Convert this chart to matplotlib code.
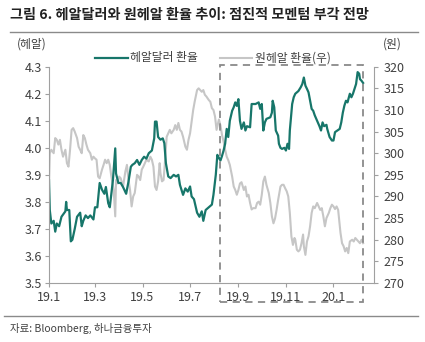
import numpy as np
import pandas as pd
import matplotlib
matplotlib.use('Agg')
import matplotlib.pyplot as plt
import matplotlib.dates as mdates
from matplotlib.patches import Rectangle
from matplotlib.lines import Line2D
from matplotlib.transforms import blended_transform_factory

plt.rcParams['font.family'] = ['Noto Sans CJK KR', 'DejaVu Sans']

start = pd.Timestamp('2019-01-01')

# 헤알달러 환율 (left axis), days since 2019-01-01
brl_days = [0, 1, 3, 6, 8, 10, 13, 16, 21, 22, 23, 26, 28, 30, 33, 36, 40, 42, 44, 47,
            50, 53, 57, 59, 62, 65, 68, 71, 73, 76, 78, 80, 82, 85, 86, 89, 92, 95, 99, 102,
            105, 107, 110, 113, 116, 119, 122, 125, 128, 132, 135, 136, 138, 140, 143, 146, 148, 150, 153, 156,
            160, 163, 166, 168, 172, 175, 178, 181, 183, 186, 190, 193, 196, 198, 201, 205, 209, 211, 214, 216,
            217, 220, 222, 224, 226, 228, 230, 232, 235, 237, 239, 241, 243, 245, 247, 250, 252, 254, 258, 260,
            265, 269, 271, 273, 275, 277, 279, 284, 286, 287, 289, 291, 294, 295, 297, 299, 302, 304, 306, 308,
            309, 312, 314, 316, 318, 320, 323, 325, 327, 329, 331, 333, 335, 337, 339, 341, 344, 347, 349, 351,
            353, 356, 357, 360, 363, 365, 367, 370, 373, 375, 377, 379, 381, 383, 386, 388, 390, 392, 394, 396,
            398, 399, 401, 403]
brl_usd = [3.88, 3.77, 3.72, 3.73, 3.69, 3.72, 3.71, 3.745, 3.765, 3.80, 3.77, 3.77, 3.654, 3.66, 3.70, 3.745, 3.76, 3.71, 3.73, 3.75,
           3.74, 3.75, 3.735, 3.78, 3.78, 3.87, 3.845, 3.83, 3.855, 3.795, 3.78, 3.83, 3.88, 3.998, 3.905, 3.87, 3.87, 3.855, 3.83, 3.875,
           3.93, 3.937, 3.943, 3.955, 3.937, 3.955, 3.967, 3.96, 3.98, 3.99, 4.035, 4.097, 4.097, 4.04, 4.03, 4.035, 4.017, 3.943, 3.894, 3.888,
           3.90, 3.894, 3.90, 3.863, 3.826, 3.85, 3.838, 3.857, 3.82, 3.81, 3.76, 3.745, 3.765, 3.73, 3.77, 3.78, 3.79, 3.826, 3.90, 3.974,
           3.968, 3.953, 3.97, 3.99, 4.015, 4.07, 4.04, 4.10, 4.137, 4.15, 4.168, 4.155, 4.18, 4.10, 4.07, 4.094, 4.064, 4.08, 4.076, 4.162,
           4.162, 4.168, 4.144, 4.162, 4.064, 4.094, 4.107, 4.113, 4.13, 4.174, 4.15, 4.064, 4.045, 4.015, 4.00, 3.996, 4.00, 3.99, 4.015, 3.996,
           4.064, 4.162, 4.187, 4.20, 4.205, 4.21, 4.224, 4.236, 4.26, 4.23, 4.218, 4.205, 4.175, 4.144, 4.137, 4.12, 4.10, 4.08, 4.064, 4.094,
           4.08, 4.085, 4.07, 4.04, 4.027, 4.027, 4.058, 4.064, 4.07, 4.094, 4.13, 4.156, 4.174, 4.168, 4.20, 4.187, 4.20, 4.218, 4.236, 4.28,
           4.274, 4.254, 4.248, 4.24]

# 원헤알 환율 (right axis)
krw_days = [0, 1, 3, 6, 8, 10, 12, 14, 16, 18, 21, 23, 25, 27, 29, 31, 33, 36, 38, 40,
            42, 44, 46, 48, 50, 53, 55, 57, 59, 61, 63, 65, 68, 70, 72, 74, 76, 78, 80, 83,
            85, 86, 88, 90, 92, 95, 98, 100, 102, 104, 106, 108, 110, 113, 115, 117, 119, 121, 123, 125,
            128, 130, 132, 134, 135, 136, 138, 140, 142, 143, 145, 147, 149, 151, 153, 155, 157, 160, 162, 164,
            166, 168, 170, 172, 175, 177, 179, 181, 183, 185, 187, 190, 192, 194, 196, 198, 200, 202, 205, 207,
            209, 211, 213, 215, 218, 220, 222, 224, 226, 228, 230, 232, 235, 237, 239, 241, 243, 245, 247, 250,
            252, 254, 256, 258, 260, 262, 265, 267, 269, 271, 273, 275, 277, 279, 282, 284, 286, 288, 290, 292,
            294, 297, 299, 301, 303, 305, 307, 309, 311, 313, 315, 316, 318, 320, 322, 324, 326, 327, 329, 331,
            333, 335, 337, 339, 341, 344, 346, 348, 350, 352, 354, 356, 359, 361, 363, 365, 367, 369, 371, 374,
            376, 378, 380, 382, 384, 386, 389, 391, 393, 395, 397, 399, 401, 403]
krw_brl = [293, 300, 300.8, 300, 303.5, 303.1, 302, 303.1, 300.8, 299.2, 300.8, 297.7, 296.9, 300.8, 305.4, 305.8, 305, 303.5, 301.5, 300.8,
           300, 304.2, 303.5, 302, 300.8, 300, 298.5, 299.2, 298.8, 298.5, 294.6, 294.2, 296.2, 297.3, 298.5, 297.7, 298.5, 297.3, 294.6, 291.5,
           285.4, 293.8, 293, 294.6, 294.2, 292.3, 295.8, 297.3, 293.8, 291.5, 287.7, 290, 290.8, 295, 294.6, 293.8, 296.2, 296.9, 297.7, 298.5,
           298.1, 299.2, 298.5, 296.9, 294.6, 292.3, 291.5, 293.5, 297.7, 295.4, 293.5, 293.8, 298.5, 303.8, 304.6, 305.4, 304.6, 305.4, 306.5, 305.4,
           307, 305.4, 305, 303.8, 301.5, 300.8, 303.1, 304.6, 307.3, 310, 312, 314.6, 315, 314.6, 314.2, 314.6, 313.5, 313.1, 312.3, 311.9,
           310.4, 310, 308.5, 305.4, 307.8, 306.4, 304.2, 302.7, 300.8, 299.2, 298.4, 297.3, 294.6, 292.3, 291.5, 290.4, 291.5, 293, 293.3, 291.5,
           292.3, 290, 290.4, 288.5, 287, 287.3, 287.3, 288.5, 288.8, 288.1, 290.4, 293.5, 294.6, 292.7, 290.8, 288.5, 285.4, 283.8, 284.9, 286.9,
           289.2, 292.3, 292.7, 292.7, 291.9, 291.2, 290, 286.2, 280.8, 278.8, 280.4, 280, 277.7, 277.3, 277.7, 279.2, 281.2, 278.5, 276.5, 279.6,
           280.8, 283.1, 286.2, 287.7, 287.3, 288.5, 287.7, 286.9, 287.3, 285.4, 283.1, 285, 286.2, 287.3, 288.1, 287.7, 287.1, 287.7, 286.9, 281.6,
           279.2, 278.5, 277.3, 278.1, 276.9, 279.6, 280, 279.6, 280.4, 280, 279.6, 279.2, 280, 279.2]

tick_dates = ['2019-01-01', '2019-03-01', '2019-05-01', '2019-07-01', '2019-09-01', '2019-11-01', '2020-01-01']
tick_labels = ['19.1', '19.3', '19.5', '19.7', '19.9', '19.11', '20.1']

teal = '#17766a'
grey = '#c6c6c6'
txt = '#404040'
spine = '#a0a0a0'

brl_x = start + pd.to_timedelta(brl_days, unit='D')
krw_x = start + pd.to_timedelta(krw_days, unit='D')

fig = plt.figure(figsize=(4.25, 3.42), dpi=100)
ax = fig.add_axes([49 / 425, 1 - 283 / 342, 325 / 425, 216.3 / 342])
ax2 = ax.twinx()

ax2.plot(krw_x, krw_brl, color=grey, lw=1.5)
ax.plot(brl_x, brl_usd, color=teal, lw=1.6)
ax.set_zorder(ax2.get_zorder() + 1)
ax.patch.set_visible(False)

ax.set_xlim(start, start + pd.Timedelta(days=417))
ax.set_ylim(3.5, 4.3)
ax.set_yticks(np.arange(3.5, 4.31, 0.1))
ax.yaxis.set_major_formatter(plt.FuncFormatter(lambda v, p: f'{v:.1f}'))
ax2.set_ylim(270, 320)
ax2.set_yticks(np.arange(270, 321, 5))

ax.set_xticks(pd.to_datetime(tick_dates))
ax.set_xticklabels(tick_labels)

for a in (ax, ax2):
    for s in a.spines.values():
        s.set_visible(False)
    a.tick_params(colors=spine, labelcolor=txt, labelsize=9, length=3, width=0.8)
ax.spines['left'].set_visible(True)
ax.spines['bottom'].set_visible(True)
ax.spines['left'].set_color(spine)
ax.spines['bottom'].set_color(spine)
ax2.spines['right'].set_visible(True)
ax2.spines['right'].set_color(spine)
ax.tick_params(axis='x', pad=3)
ax.tick_params(axis='y', pad=2)
ax2.tick_params(axis='y', pad=4)

# dashed highlight box
tr = blended_transform_factory(ax.transData, fig.transFigure)
x0 = mdates.date2num(start + pd.Timedelta(days=219))
x1 = mdates.date2num(start + pd.Timedelta(days=403))
box = Rectangle((x0, 1 - 302 / 342), x1 - x0, (302 - 65) / 342, transform=tr,
                fill=False, ec='#8a8a8a', lw=1.3, ls=(0, (4, 3)), clip_on=False, zorder=5)
fig.add_artist(box)

# title and rules
fig.text(10 / 425, 1 - 15 / 342, '그림 6. 헤알달러와 원헤알 환율 추이: 점진적 모멘텀 부각 전망',
         fontsize=10.2, fontweight='bold', color='#222222', va='center', ha='left')
fig.add_artist(Line2D([10 / 425, 418 / 425], [1 - 32 / 342, 1 - 32 / 342], color='#8a8a8a', lw=1))
fig.add_artist(Line2D([4 / 425, 418 / 425], [1 - 316 / 342, 1 - 316 / 342], color='#8a8a8a', lw=1))
fig.text(10 / 425, 1 - 328 / 342, '자료: Bloomberg, 하나금융투자', fontsize=7.5, color=txt, va='center', ha='left')

# axis unit labels
fig.text(17 / 425, 1 - 44 / 342, '(헤알)', fontsize=8.5, color=txt, va='center', ha='left')
fig.text(383 / 425, 1 - 44 / 342, '(원)', fontsize=8.5, color=txt, va='center', ha='left')

# legend
ly = 1 - 58 / 342
fig.add_artist(Line2D([95 / 425, 128 / 425], [ly, ly], color=teal, lw=1.6))
fig.text(130 / 425, ly, '헤알달러 환율', fontsize=8.5, color=txt, va='center', ha='left')
fig.add_artist(Line2D([220 / 425, 252 / 425], [ly, ly], color=grey, lw=1.5))
fig.text(255 / 425, ly, '원헤알 환율(우)', fontsize=8.5, color=txt, va='center', ha='left')

fig.savefig('out.png', dpi=100)
